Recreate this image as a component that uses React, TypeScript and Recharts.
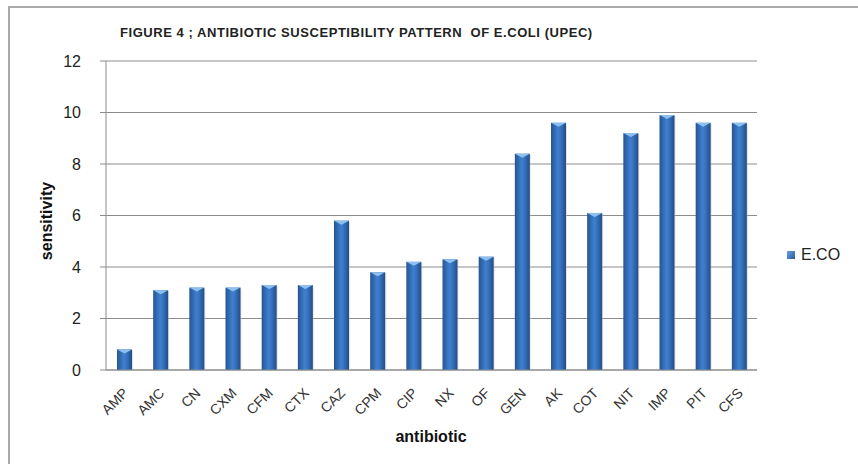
import React from 'react';
import { BarChart, Bar, XAxis, YAxis, CartesianGrid } from 'recharts';

const antibiotics = ['AMP', 'AMC', 'CN', 'CXM', 'CFM', 'CTX', 'CAZ', 'CPM', 'CIP', 'NX', 'OF', 'GEN', 'AK', 'COT', 'NIT', 'IMP', 'PIT', 'CFS'];
const ecoValues = [0.8, 3.1, 3.2, 3.2, 3.3, 3.3, 5.8, 3.8, 4.2, 4.3, 4.4, 8.4, 9.6, 6.1, 9.2, 9.9, 9.6, 9.6];
const yTicks = [0, 2, 4, 6, 8, 10, 12];

const data = antibiotics.map((name, i) => ({ name, eco: ecoValues[i] }));

const FONT = '"Liberation Sans", Arial, sans-serif';

// excel-ish cylinder look: dark edges, lighter middle, light cap on top
const BarShape = (props: any) => {
    const { x, y, width, height } = props;
    if (!height || height <= 0) return null;
    const cap = 4;
    return (
        <g>
            <rect x={x + 1} y={y + 1} width={width} height={height} fill="#c8c8c8" opacity={0.5} />
            <rect x={x} y={y} width={width} height={height} fill="url(#barGrad)" />
            <polygon
                points={`${x},${y} ${x + width},${y} ${x + width / 2},${y + cap}`}
                fill="#8cc0f0"
            />
        </g>
    );
};

const XTick = (props: any) => {
    const { x, y, payload } = props;
    return (
        <text
            x={x + 5}
            y={y + 16}
            transform={`rotate(-45, ${x + 5}, ${y + 16})`}
            textAnchor="end"
            fontSize={14}
            fontFamily={FONT}
            fill="#333"
        >
            {payload.value}
        </text>
    );
};

export default function App() {
    return (
        <div style={{ position: 'absolute', left: 0, top: 0, width: 858, height: 464, background: '#fff', overflow: 'hidden' }}>
            {/* chart frame */}
            <div style={{ position: 'absolute', left: 8, top: 6, width: 900, height: 500, borderLeft: '2px solid #aaa', borderTop: '2px solid #aaa' }} />

            <div style={{ position: 'absolute', left: 120, top: 25, fontFamily: FONT, fontWeight: 'bold', fontSize: 13, letterSpacing: 0.55, color: '#222', whiteSpace: 'nowrap' }}>
                FIGURE 4 ; ANTIBIOTIC SUSCEPTIBILITY PATTERN&nbsp; OF E.COLI (UPEC)
            </div>

            <BarChart
                width={858}
                height={464}
                data={data}
                margin={{ top: 61, right: 101, left: 0, bottom: 0 }}
                style={{ position: 'absolute', left: 0, top: 0 }}
            >
                <defs>
                    <linearGradient id="barGrad" x1="0" y1="0" x2="1" y2="0">
                        <stop offset="0%" stopColor="#27548f" />
                        <stop offset="45%" stopColor="#3d7fd0" />
                        <stop offset="60%" stopColor="#3a78c6" />
                        <stop offset="100%" stopColor="#234d85" />
                    </linearGradient>
                </defs>
                <CartesianGrid vertical={false} stroke="#8c8c8c" />
                <XAxis
                    dataKey="name"
                    interval={0}
                    height={94}
                    tickLine={false}
                    axisLine={{ stroke: '#8c8c8c' }}
                    tick={<XTick />}
                />
                <YAxis
                    width={106}
                    domain={[0, 12]}
                    ticks={yTicks}
                    tickSize={6}
                    tickMargin={19}
                    axisLine={{ stroke: '#8c8c8c' }}
                    tickLine={{ stroke: '#8c8c8c' }}
                    tick={{ fontSize: 16, fontFamily: FONT, fill: '#222' }}
                />
                <Bar dataKey="eco" name="E.CO" barSize={15} shape={<BarShape />} isAnimationActive={false} />
            </BarChart>

            <div style={{ position: 'absolute', left: 47, top: 221, transform: 'translate(-50%, -50%) rotate(-90deg)', fontFamily: FONT, fontWeight: 'bold', fontSize: 16, color: '#111', whiteSpace: 'nowrap' }}>
                sensitivity
            </div>
            <div style={{ position: 'absolute', left: 431, top: 437, transform: 'translate(-50%, -50%)', fontFamily: FONT, fontWeight: 'bold', fontSize: 16, color: '#111', whiteSpace: 'nowrap' }}>
                antibiotic
            </div>

            {/* legend */}
            <div style={{ position: 'absolute', left: 787, top: 246, display: 'flex', alignItems: 'center', fontFamily: FONT, fontSize: 16, color: '#222' }}>
                <span style={{ display: 'inline-block', width: 8, height: 8, background: 'linear-gradient(135deg, #6aa3e3, #2a5a99)', marginRight: 6 }} />
                E.CO
            </div>
        </div>
    );
}
